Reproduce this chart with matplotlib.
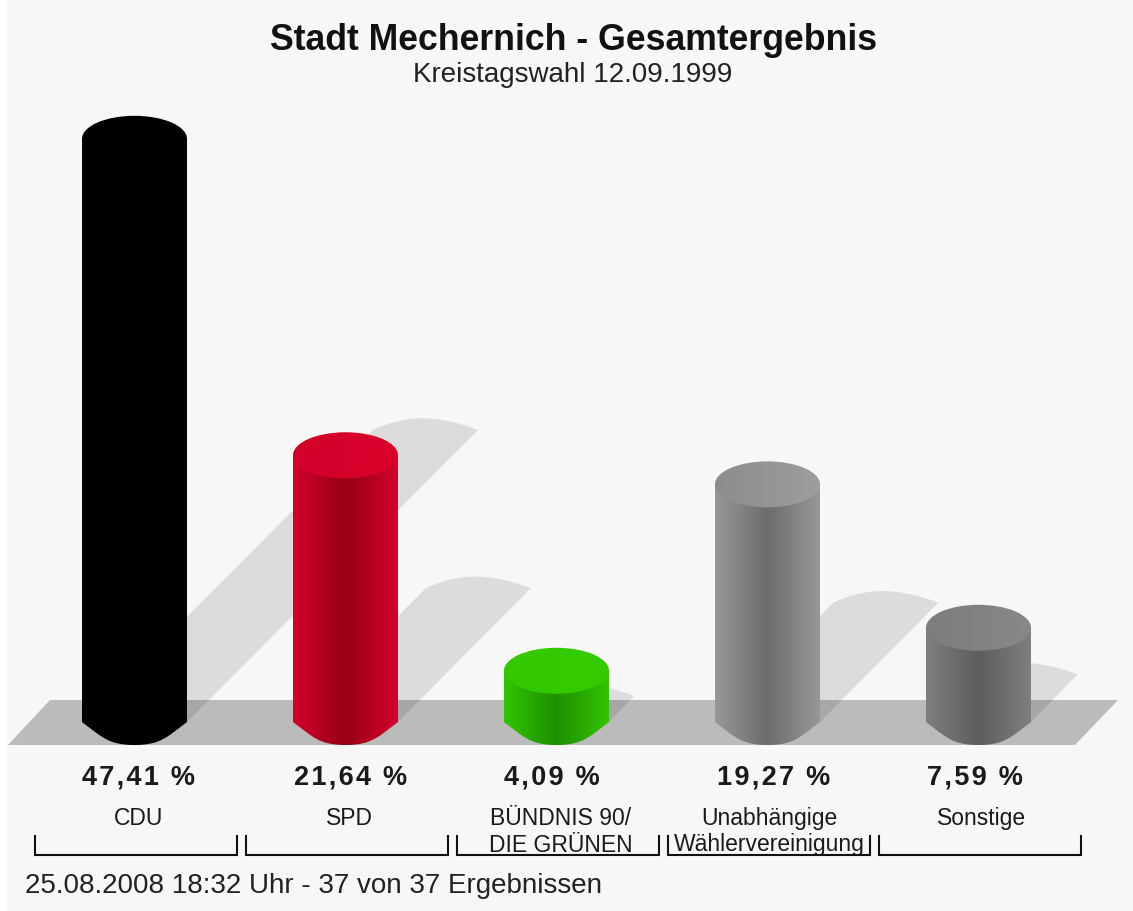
#! /usr/bin/env python3

import numpy as np
import matplotlib
matplotlib.use("Agg")
import matplotlib.pyplot as plt
from matplotlib.colors import LinearSegmentedColormap
from matplotlib.patches import Ellipse, PathPatch, Polygon, Rectangle
from matplotlib.path import Path

parties = ["CDU", "SPD", "BÜNDNIS 90/\nDIE GRÜNEN", "Unabhängige\nWählervereinigung", "Sonstige"]
values = [47.41, 21.64, 4.09, 19.27, 7.59]
value_labels = ["47,41 %", "21,64 %", "4,09 %", "19,27 %", "7,59 %"]
title = "Stadt Mechernich - Gesamtergebnis"
subtitle = "Kreistagswahl 12.09.1999"
footer = "25.08.2008 18:32 Uhr - 37 von 37 Ergebnissen"

edge_colors = ["#000000", "#d4002c", "#33c400", "#989898", "#7f7f7f"]
mid_colors = ["#000000", "#960016", "#1e9000", "#6c6c6c", "#5d5d5d"]
top_left_colors = ["#000000", "#d2002a", "#33c800", "#8c8c8c", "#7c7c7c"]
top_right_colors = ["#000000", "#da002a", "#33cc00", "#9e9e9e", "#888888"]

bar_x = [134.5, 345.5, 556.5, 767.5, 978.5]
value_x = [139, 351, 552, 774, 975]
name_x = [139, 349, 561, 769, 982]

# pixels of the original picture, y axis itself is in percent
W, H = 1133, 911
BASE = 721
SCALE = 12.28
R = 52.5
RY = 23


def py(pixel):
    '''Convert a pixel row of the picture to the percent scale of the axis.'''
    return (BASE - pixel) / SCALE


def cylinder_path(x):
    '''Return the outline of the lower end of a bar, as vertices and codes.'''
    verts = [(x - R, py(722)),
             (x - R + 20, py(737)), (x - 26, py(745)), (x, py(745)),
             (x + 26, py(745)), (x + R - 20, py(737)), (x + R, py(722))]
    codes = [Path.LINETO, Path.CURVE4, Path.CURVE4, Path.CURVE4,
             Path.CURVE4, Path.CURVE4, Path.CURVE4]
    return verts, codes


def draw_shadow(ax, x, value):
    h = value * SCALE / 2
    top = value / 2
    low, low_codes = cylinder_path(x)
    verts = [(x - R + h, top),
             (x - R + h + 30, top + 14 / SCALE), (x + R + h - 45, top + 17 / SCALE), (x + R + h, top)]
    codes = [Path.MOVETO, Path.CURVE4, Path.CURVE4, Path.CURVE4]
    verts += low[::-1] + [(x - R + h, top)]
    codes += low_codes + [Path.CLOSEPOLY]
    ax.add_patch(PathPatch(Path(verts, codes), fc="black", ec="none", alpha=0.105, zorder=3))


def draw_bar(ax, x, value, edge, mid, top_left, top_right):
    low, low_codes = cylinder_path(x)
    verts = [(x - R, value)] + low + [(x + R, value), (x - R, value)]
    codes = [Path.MOVETO] + low_codes + [Path.LINETO, Path.CLOSEPOLY]
    body = PathPatch(Path(verts, codes), fc="none", ec="none", transform=ax.transData)
    ax.add_patch(body)

    shade = np.linspace(0, 1, 256).reshape(1, -1)
    cmap = LinearSegmentedColormap.from_list("shade", [edge, mid, edge])
    im = ax.imshow(shade, cmap=cmap, aspect="auto", zorder=4,
                   extent=(x - R, x + R, py(750), value + 1))
    im.set_clip_path(body)

    cap = Ellipse((x, value), 2 * R, 2 * RY / SCALE, fc="none", ec="none", transform=ax.transData)
    ax.add_patch(cap)
    cmap = LinearSegmentedColormap.from_list("cap", [top_left, top_right])
    im = ax.imshow(shade, cmap=cmap, aspect="auto", zorder=5,
                   extent=(x - R, x + R, value - 2 * RY / SCALE, value + 2 * RY / SCALE))
    im.set_clip_path(cap)


fig = plt.figure(figsize=(W / 100, H / 100), dpi=100, facecolor="white")
ax = fig.add_axes([0, 0, 1, 1])
ax.axis("off")

plt.rcParams["font.family"] = "Liberation Sans"

ax.add_patch(Rectangle((7, py(H)), W - 7, py(0) - py(H), fc="#f7f7f7", ec="none", zorder=0))
ax.add_patch(Polygon([(8, py(745)), (50, py(700)), (1118, py(700)), (1075, py(745))],
                     fc="#bbbbbb", ec="none", zorder=1))

for i in range(len(values)):
    draw_shadow(ax, bar_x[i], values[i])
for i in range(len(values)):
    draw_bar(ax, bar_x[i], values[i], edge_colors[i], mid_colors[i],
             top_left_colors[i], top_right_colors[i])

ax.set_xlim(0, W)
ax.set_ylim(py(H), py(0))

txt = "#1a1a1a"
ax.text(574, py(40.5), title, ha="center", va="center", fontsize=25.7, fontweight="bold", color="#111111")
ax.text(573, py(75.5), subtitle, ha="center", va="center", fontsize=20, color="#222222")

for i in range(len(values)):
    # the picture has its percent labels spaced out a little
    ax.text(value_x[i], py(777.5), "\u200a".join(value_labels[i]), ha="center", va="center",
            fontsize=19.5, fontweight="bold", color=txt)
    lines = parties[i].split("\n")
    ax.text(name_x[i], py(818.5), lines[0], ha="center", va="center", fontsize=16.5, color=txt)
    if len(lines) > 1:
        ax.text(name_x[i], py(845), lines[1], ha="center", va="center", fontsize=16.5, color=txt)

    # bracket under each party
    left = 35 + 211 * i
    ax.plot([left, left, left + 202, left + 202], [py(836), py(855), py(855), py(836)],
            color="#111111", lw=1.5, solid_joinstyle="miter", zorder=6)

ax.text(25, py(886), footer, ha="left", va="center", fontsize=20, color="#222222")

fig.savefig("out.png", dpi=100, facecolor=fig.get_facecolor())
